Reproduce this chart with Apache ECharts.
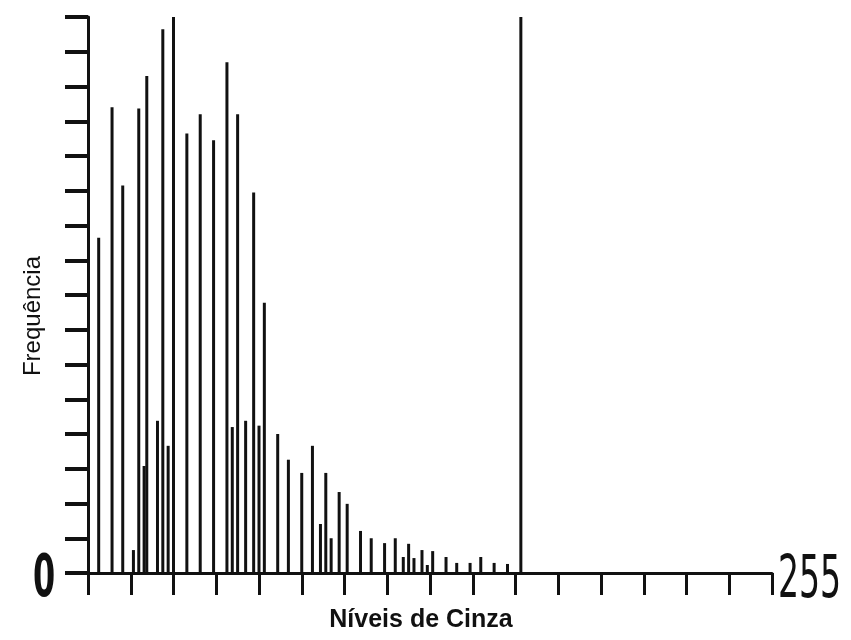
<!DOCTYPE html>
<html>
<head>
<meta charset="utf-8">
<style>
  html, body { margin: 0; padding: 0; background: #fff; }
  #chart { width: 851px; height: 640px; }
</style>
<script src="https://cdn.jsdelivr.net/npm/echarts@6/dist/echarts.min.js"></script>
</head>
<body>
<div id="chart"></div>
<script>
// níveis de cinza (0..255) e frequência (em divisões do eixo)
const grayLevels = [4, 9, 13, 17, 19, 21, 22, 26, 28, 30, 32, 37, 42, 47, 52, 54, 56, 59, 62, 64, 66,
  71, 75, 80, 84, 87, 89, 91, 94, 97, 102, 106, 111, 115, 118, 120, 122, 125, 127, 129,
  134, 138, 143, 147, 152, 157, 162]
const frequencies = [9.65, 13.4, 11.15, 0.66, 13.37, 3.08, 14.3, 4.38, 15.65, 3.66, 16.0, 12.65, 13.2, 12.45, 14.7, 4.2, 13.2, 4.38, 10.95, 4.24, 7.78,
  4.0, 3.26, 2.88, 3.66, 1.41, 2.88, 1.0, 2.33, 1.99, 1.21, 1.0, 0.86, 1.0, 0.46, 0.84, 0.43, 0.66, 0.23, 0.63,
  0.46, 0.29, 0.29, 0.46, 0.29, 0.26, 16.05]
const xMax = 256
const xStep = 16
const yMax = 16

const ink = '#111'
const chart = echarts.init(document.getElementById('chart'))

const option = {
  backgroundColor: '#fff',
  animation: false,
  grid: { left: 88, right: 79, top: 17, bottom: 67 },
  xAxis: {
    type: 'value',
    min: 0,
    max: xMax,
    interval: xStep,
    axisLine: { show: true, lineStyle: { color: ink, width: 3 } },
    axisTick: { show: true, length: 22, lineStyle: { color: ink, width: 3 } },
    axisLabel: { show: false },
    splitLine: { show: false }
  },
  yAxis: {
    type: 'value',
    min: 0,
    max: yMax,
    interval: 1,
    axisLine: { show: true, lineStyle: { color: ink, width: 3 } },
    axisTick: { show: true, length: 23, lineStyle: { color: ink, width: 4 } },
    axisLabel: { show: false },
    splitLine: { show: false }
  },
  series: [{
    type: 'bar',
    barWidth: 3,
    itemStyle: { color: ink },
    data: grayLevels.map((g, i) => [g, frequencies[i]])
  }],
  graphic: [
    {
      type: 'text', left: 33, top: 552, scaleX: 0.55,
      style: { text: '0', fontSize: 58, fontWeight: 'bold', fontFamily: 'DejaVu Sans', fill: ink }
    },
    {
      type: 'text', left: 778, top: 553, scaleX: 0.57,
      style: { text: '255', fontSize: 58, fontFamily: 'DejaVu Sans', fill: ink }
    },
    {
      type: 'text', x: 33, y: 316, rotation: Math.PI / 2,
      style: { text: 'Frequência', fontSize: 24, fontFamily: 'Liberation Sans', fill: ink, align: 'center', verticalAlign: 'middle' }
    },
    {
      type: 'text', x: 421, y: 620,
      style: { text: 'Níveis de Cinza', fontSize: 25, fontWeight: 'bold', fontFamily: 'Liberation Sans', fill: ink, align: 'center', verticalAlign: 'middle' }
    }
  ]
}

chart.setOption(option)
</script>
</body>
</html>
